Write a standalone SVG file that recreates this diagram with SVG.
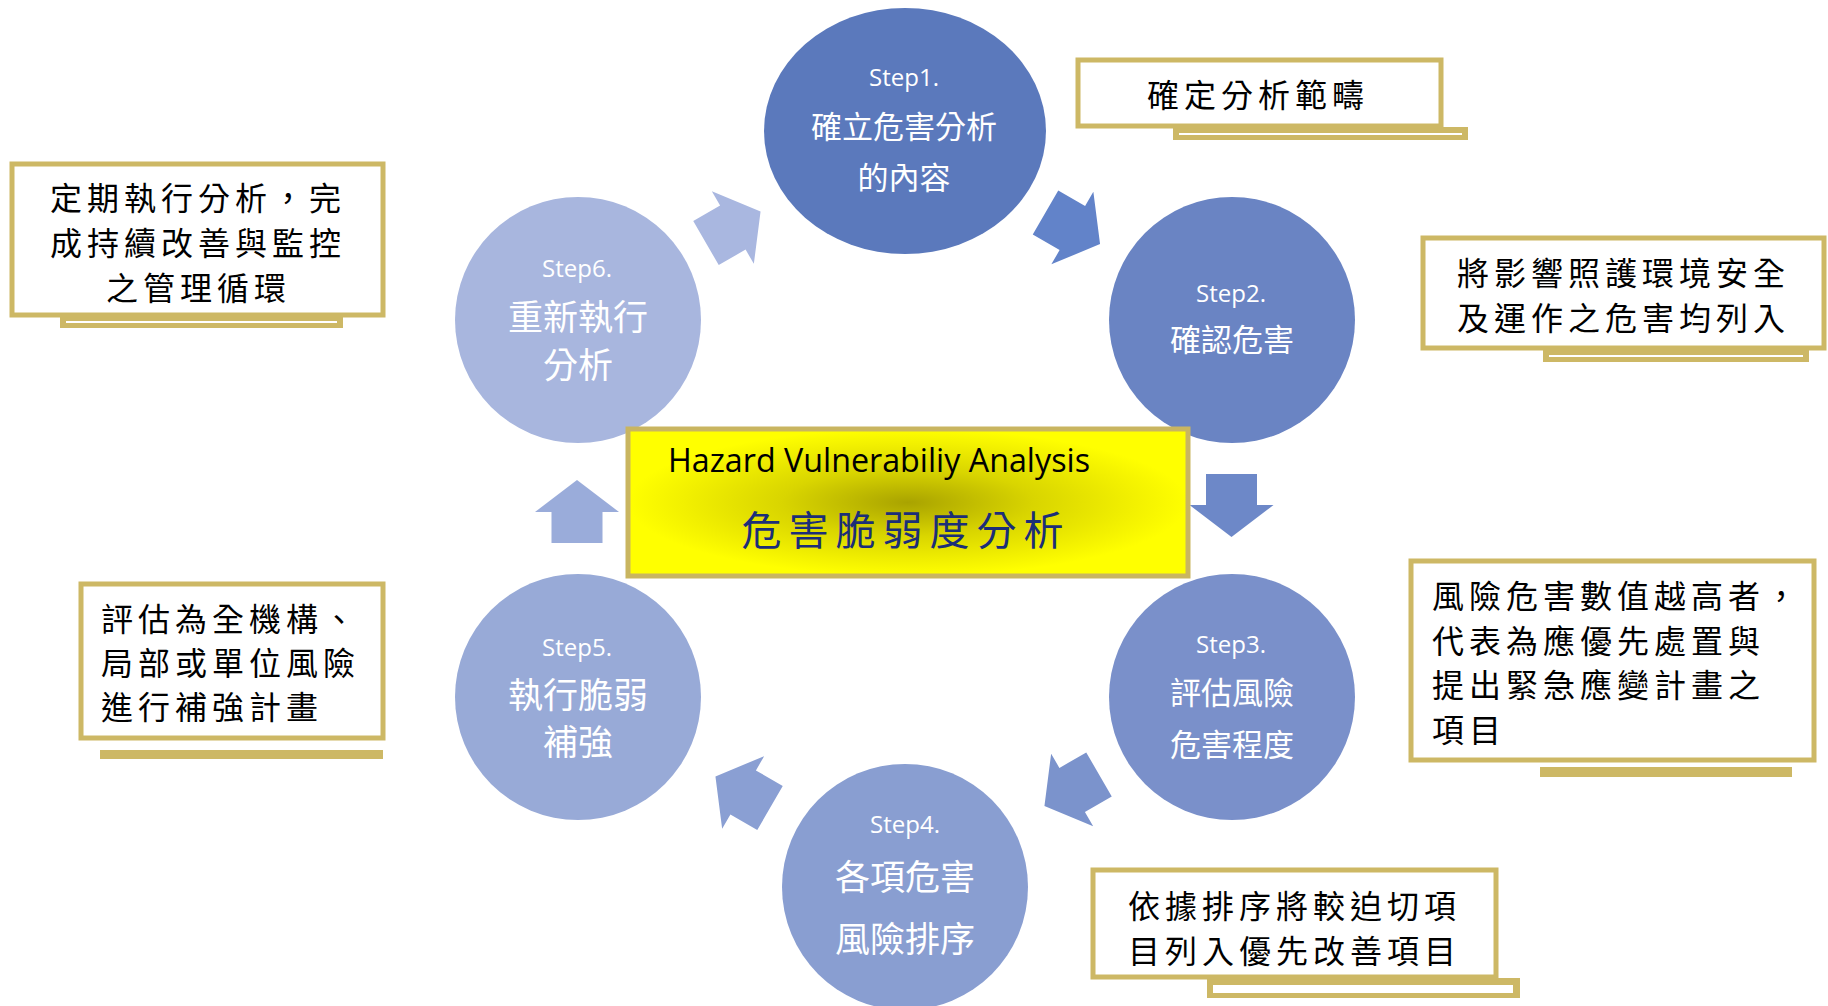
<svg xmlns="http://www.w3.org/2000/svg" width="1828" height="1006" viewBox="0 0 1828 1006">
<defs>
<radialGradient id="yg" cx="0.5" cy="0.5" r="0.5" gradientUnits="objectBoundingBox">
<stop offset="0" stop-color="#A9A300"/>
<stop offset="0.45" stop-color="#D9D500"/>
<stop offset="0.8" stop-color="#F2F000"/>
<stop offset="1" stop-color="#FFFF00"/>
</radialGradient>
<polygon id="arr" points="0,-25.5 31,-25.5 31,-42 63,0 31,42 31,25.5 0,25.5"/>
</defs>
<style>
.st{font-family:"Open Sans","Liberation Sans",sans-serif;font-size:24px;fill:#fff;text-anchor:middle}
.cz{font-family:"Noto Sans CJK TC","Noto Sans CJK SC",sans-serif;fill:#fff;text-anchor:middle}
.c32{font-size:31px}
.c36{font-size:35px}
.frame{fill:#fff;stroke:#CDB865;stroke-width:5}
.bar{fill:#CDB865}
.line{fill:#fff}
.ct{font-family:"Noto Sans CJK TC","Noto Sans CJK SC",sans-serif;font-size:32px;fill:#000;letter-spacing:5px}
</style>
<rect width="1828" height="1006" fill="#fff"/>

<g id="connectors">
<use href="#arr" fill="#6283C9" transform="translate(1045.5,212.5) rotate(30)"/>
<use href="#arr" fill="#6D88C8" transform="translate(1231.5,474) rotate(90)"/>
<use href="#arr" fill="#7B93CC" transform="translate(1099,774.5) rotate(150)"/>
<use href="#arr" fill="#8A9FD3" transform="translate(770,808) rotate(210)"/>
<use href="#arr" fill="#9AACDA" transform="translate(577,543) rotate(-90)"/>
<use href="#arr" fill="#A9B7E0" transform="translate(706,243) rotate(-30)"/>
</g>

<g id="step1">
<ellipse cx="905" cy="131" rx="141" ry="123" fill="#5B79BC"/>
<text class="st" x="904" y="86">Step1.</text>
<text class="cz c32" x="904" y="138">確立危害分析</text>
<text class="cz c32" x="904" y="189">的內容</text>
</g>
<g id="step2">
<circle cx="1232" cy="320" r="123" fill="#6A84C3"/>
<text class="st" x="1231" y="302">Step2.</text>
<text class="cz c32" x="1232" y="351">確認危害</text>
</g>
<g id="step3">
<circle cx="1232" cy="697" r="123" fill="#7A90CA"/>
<text class="st" x="1231" y="653">Step3.</text>
<text class="cz c32" x="1232" y="704">評估風險</text>
<text class="cz c32" x="1232" y="756">危害程度</text>
</g>
<g id="step4">
<circle cx="905" cy="887" r="123" fill="#899ED1"/>
<text class="st" x="905" y="833">Step4.</text>
<text class="cz c36" x="905" y="890">各項危害</text>
<text class="cz c36" x="905" y="952">風險排序</text>
</g>
<g id="step5">
<circle cx="578" cy="697" r="123" fill="#98AAD7"/>
<text class="st" x="577" y="656">Step5.</text>
<text class="cz c36" x="578" y="708">執行脆弱</text>
<text class="cz c36" x="578" y="755">補強</text>
</g>
<g id="step6">
<circle cx="578" cy="320" r="123" fill="#A8B6DE"/>
<text class="st" x="577" y="277">Step6.</text>
<text class="cz c36" x="578" y="330">重新執行</text>
<text class="cz c36" x="578" y="378">分析</text>
</g>

<g id="center">
<rect x="628" y="429" width="560" height="147" fill="url(#yg)" stroke="#C9B560" stroke-width="5"/>
<text x="668" y="472" font-family="Open Sans, Liberation Sans, sans-serif" font-size="32" fill="#000" textLength="422" lengthAdjust="spacingAndGlyphs">Hazard Vulnerabiliy Analysis</text>
<text x="906" y="545" font-family="Noto Sans CJK TC, Noto Sans CJK SC, sans-serif" font-size="40" fill="#1B2E78" text-anchor="middle" letter-spacing="7">危害脆弱度分析</text>
</g>

<g id="noteA">
<rect class="bar" x="1173" y="127" width="295" height="13"/>
<rect class="line" x="1179" y="133" width="283" height="2"/>
<rect class="frame" x="1078" y="60" width="363" height="66"/>
<text class="ct" x="1147" y="107">確定分析範疇</text>
</g>
<g id="noteB">
<rect class="bar" x="1543" y="349" width="266" height="13"/>
<rect class="line" x="1549" y="355" width="254" height="2"/>
<rect class="frame" x="1423" y="238" width="401" height="110"/>
<text class="ct" x="1457" y="285">將影響照護環境安全</text>
<text class="ct" x="1457" y="330">及運作之危害均列入</text>
</g>
<g id="noteC">
<rect class="bar" x="60" y="315" width="283" height="13"/>
<rect class="line" x="66" y="321" width="271" height="2"/>
<rect class="frame" x="12" y="164" width="371" height="151"/>
<text class="ct" x="50" y="210">定期執行分析，完</text>
<text class="ct" x="50" y="255">成持續改善與監控</text>
<text class="ct" x="106" y="300">之管理循環</text>
</g>
<g id="noteD">
<rect class="bar" x="1540" y="767" width="252" height="10"/>
<rect class="frame" x="1411" y="561" width="403" height="199"/>
<text class="ct" x="1432" y="608">風險危害數值越高者，</text>
<text class="ct" x="1432" y="653">代表為應優先處置與</text>
<text class="ct" x="1432" y="697">提出緊急應變計畫之</text>
<text class="ct" x="1432" y="742">項目</text>
</g>
<g id="noteE">
<rect class="bar" x="100" y="750" width="283" height="9"/>
<rect class="frame" x="81" y="584" width="302" height="154"/>
<text class="ct" x="101" y="631">評估為全機構、</text>
<text class="ct" x="101" y="675">局部或單位風險</text>
<text class="ct" x="101" y="719">進行補強計畫</text>
</g>
<g id="noteF">
<rect class="bar" x="1207" y="978" width="313" height="20"/>
<rect class="line" x="1213" y="985" width="300" height="8"/>
<rect class="frame" x="1093" y="870" width="403" height="107"/>
<text class="ct" x="1128" y="918">依據排序將較迫切項</text>
<text class="ct" x="1128" y="963">目列入優先改善項目</text>
</g>
</svg>
